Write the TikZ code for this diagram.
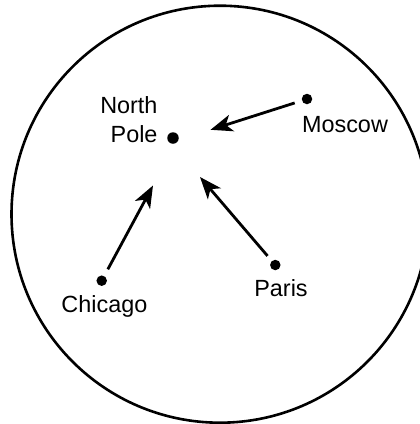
\documentclass[tikz,border=0pt]{standalone}
\usepackage{fontspec}
\setmainfont{Liberation Sans}
\usetikzlibrary{arrows.meta}
\begin{document}
\begin{tikzpicture}[x=1pt,y=-1pt,
  city/.style={circle,fill=black,inner sep=0pt,minimum size=10.5pt},
  lbl/.style={inner sep=0pt,font=\fontsize{23.4}{29.4}\selectfont},
  conn/.style={line width=2.8pt,-{Stealth[length=22pt,width=17pt,inset=6pt]}}]
\useasboundingbox (0,0) rectangle (420,424);
\node[draw,circle,line width=2.6pt,minimum size=417pt,inner sep=0pt] (globe) at (220,214.2) {};
% dots
\node[city,minimum size=11.5pt] (np) at (173,138) {};
\node[city] (moscow) at (307,99) {};
\node[city] (chicago) at (101.7,280.7) {};
\node[city] (paris) at (275.3,265) {};
% labels
\node[lbl,anchor=base east] (northlbl) at (157.7,113.3) {North};
\node[lbl,anchor=base east] (polelbl) at (157.7,142.7) {Pole};
\node[lbl,anchor=base] (moscowlbl) at (345,132.7) {Moscow};
\node[lbl,anchor=base] (chicagolbl) at (104.4,312.5) {Chicago};
\node[lbl,anchor=base] (parislbl) at (281,296.7) {Paris};
% arrow tips
\coordinate (mtip) at (210.5,129.8);
\coordinate (ctip) at (153,185.5);
\coordinate (ptip) at (200,177);
\draw[conn,shorten <=7.5pt] (moscow) -- (mtip);
\draw[conn,shorten <=7.5pt] (chicago) -- (ctip);
\draw[conn,shorten <=6.5pt] (paris) -- (ptip);
\end{tikzpicture}
\end{document}
